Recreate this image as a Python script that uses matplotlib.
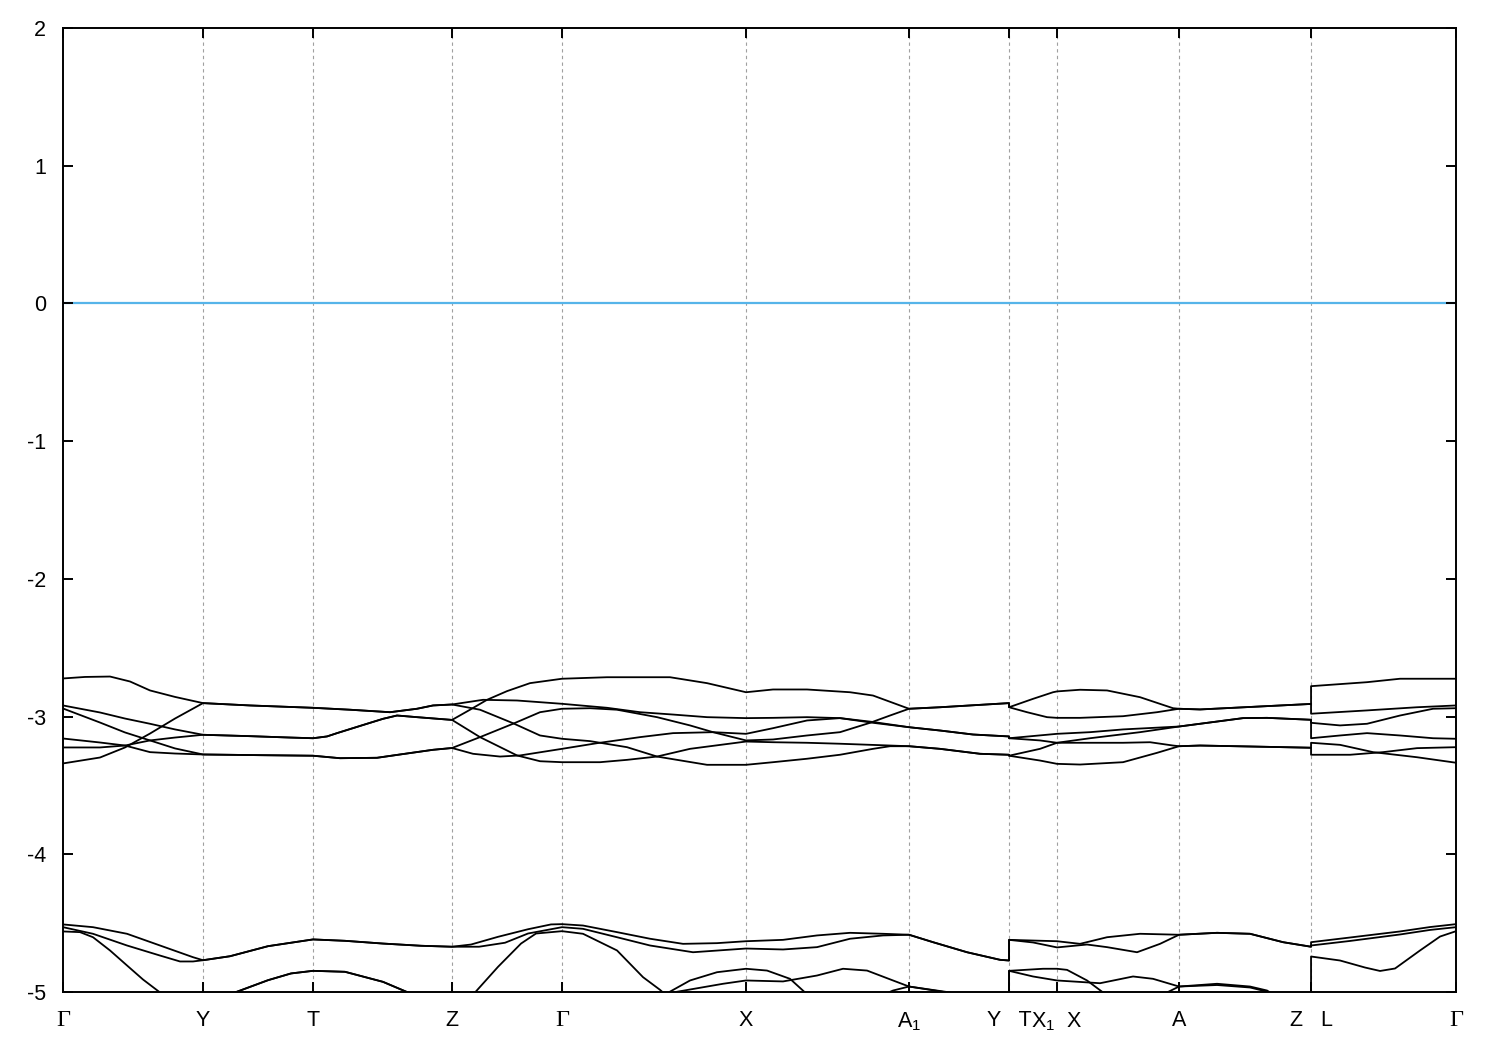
import matplotlib
matplotlib.use("Agg")
import matplotlib.pyplot as plt

plt.rcParams['font.family'] = ['Liberation Sans', 'DejaVu Sans']
plt.rcParams['mathtext.fontset'] = 'custom'
plt.rcParams['mathtext.rm'] = 'Liberation Sans'
plt.rcParams['mathtext.it'] = 'Liberation Sans'
plt.rcParams['mathtext.default'] = 'regular'

# high-symmetry points along the k-path (path coordinate)
kpoint_pos = [0.0, 1.40, 2.50, 3.89, 4.99, 6.83, 8.46, 9.46, 9.94, 11.16, 12.48, 13.93]
kpoint_labels = ['Γ', 'Y', 'T', 'Z', 'Γ', 'X', r'A$_1$', 'Y   T', r'X$_1$  X', 'A', 'Z   L', 'Γ']

# ---- upper valence group (6 bands), energies in eV ----
u1_k = [0, 0.22, 0.47, 0.67, 0.87, 1.12, 1.40, 1.87, 2.50, 2.87, 3.27, 3.54, 3.70, 3.89,
        4.20, 4.54, 4.99, 5.44, 5.77, 6.10, 6.44, 6.83, 7.10, 7.44, 7.77, 8.10, 8.46,
        8.77, 9.10, 9.46, 9.46, 9.70, 9.94, 10.27, 10.60, 11.16, 11.37, 11.80, 12.04, 12.48,
        12.48, 12.77, 13.04, 13.37, 13.70, 13.93]
u1_e = [-2.723, -2.712, -2.709, -2.745, -2.810, -2.857, -2.902, -2.919, -2.936, -2.950, -2.968, -2.943, -2.919, -2.912,
        -2.878, -2.883, -2.907, -2.936, -2.968, -2.985, -3.004, -3.011, -3.009, -3.004, -3.011, -3.045, -3.077,
        -3.101, -3.130, -3.144, -3.157, -3.141, -3.125, -3.113, -3.093, -3.072, -3.052, -3.011, -3.009, -3.023,
        -3.045, -3.064, -3.052, -2.992, -2.943, -2.939]

u2_k = [0, 0.37, 0.62, 0.87, 1.12, 1.40, 1.87, 2.50, 2.87, 3.27, 3.54, 3.70, 3.89,
        4.17, 4.50, 4.77, 4.99, 5.27, 5.64, 5.94, 6.44, 6.83, 7.10, 7.44, 7.77, 8.10, 8.27, 8.46,
        8.77, 9.17, 9.46, 9.46, 9.77, 9.94, 10.17, 10.60, 10.94, 11.16, 11.37, 11.87, 12.48,
        12.48, 12.87, 13.20, 13.54, 13.93]
u2_e = [-3.340, -3.297, -3.224, -3.123, -3.014, -2.902, -2.919, -2.936, -2.950, -2.968, -2.943, -2.919, -2.912,
        -2.950, -3.048, -3.137, -3.161, -3.178, -3.222, -3.290, -3.350, -3.350, -3.331, -3.306, -3.277, -3.234, -3.215, -3.215,
        -3.234, -3.270, -3.277, -3.284, -3.319, -3.343, -3.348, -3.331, -3.263, -3.215, -3.210, -3.217, -3.226,
        -3.277, -3.277, -3.258, -3.229, -3.222]

u3_k = [0, 0.37, 0.62, 0.87, 1.12, 1.40, 1.87, 2.27, 2.50, 2.64, 2.74, 3.04, 3.20, 3.34, 3.54, 3.89,
        4.07, 4.24, 4.44, 4.67, 4.99, 5.44, 6.07, 6.44, 6.83, 7.10, 7.44, 7.87, 8.10, 8.46,
        8.77, 9.46, 9.46, 9.70, 9.90, 9.94, 10.17, 10.44, 10.77, 11.10, 11.16, 11.37, 11.87, 12.48,
        12.48, 13.04, 13.37, 13.93]
u3_e = [-2.919, -2.970, -3.014, -3.052, -3.093, -3.132, -3.142, -3.152, -3.157, -3.144, -3.120, -3.052, -3.016, -2.992, -3.004, -3.024,
        -2.950, -2.878, -2.815, -2.757, -2.725, -2.714, -2.714, -2.757, -2.823, -2.803, -2.803, -2.823, -2.847, -2.943,
        -2.932, -2.902, -2.932, -2.871, -2.823, -2.817, -2.805, -2.810, -2.859, -2.939, -2.943, -2.948, -2.930, -2.908,
        -2.779, -2.750, -2.725, -2.725]

u4_k = [0, 0.37, 0.62, 0.87, 1.12, 1.40, 1.87, 2.27, 2.50, 2.64, 2.74, 3.04, 3.20, 3.34, 3.54, 3.89,
        4.17, 4.54, 4.77, 4.99, 5.37, 5.64, 5.94, 6.27, 6.83, 7.10, 7.44, 7.77, 8.27, 8.46,
        8.77, 9.17, 9.46, 9.46, 9.77, 9.94, 10.27, 10.77, 11.16, 11.37, 11.80, 12.04, 12.48,
        12.48, 12.77, 13.04, 13.37, 13.70, 13.93]
u4_e = [-3.224, -3.224, -3.210, -3.173, -3.152, -3.132, -3.142, -3.152, -3.157, -3.144, -3.120, -3.052, -3.016, -2.992, -3.004, -3.024,
        -3.149, -3.282, -3.324, -3.331, -3.331, -3.314, -3.290, -3.234, -3.181, -3.186, -3.190, -3.197, -3.210, -3.215,
        -3.234, -3.270, -3.277, -3.284, -3.234, -3.190, -3.157, -3.113, -3.072, -3.052, -3.011, -3.009, -3.023,
        -3.157, -3.137, -3.120, -3.137, -3.157, -3.161]

u5_k = [0, 0.37, 0.62, 0.87, 1.12, 1.40, 1.97, 2.50, 2.77, 3.14, 3.37, 3.70, 3.89,
        4.17, 4.50, 4.77, 4.99, 5.27, 5.54, 5.94, 6.27, 6.50, 6.83, 7.10, 7.44, 7.77, 8.07, 8.27, 8.46,
        8.77, 9.46, 9.46, 9.64, 9.84, 9.94, 10.17, 10.60, 10.94, 11.16, 11.37, 11.87, 12.48,
        12.48, 13.04, 13.54, 13.93]
u5_e = [-2.941, -3.043, -3.115, -3.173, -3.231, -3.275, -3.280, -3.284, -3.302, -3.299, -3.275, -3.241, -3.228,
        -3.149, -3.052, -2.968, -2.943, -2.939, -2.950, -3.004, -3.064, -3.113, -3.173, -3.166, -3.137, -3.113, -3.045, -2.992, -2.943,
        -2.932, -2.902, -2.932, -2.968, -3.004, -3.009, -3.009, -2.997, -2.968, -2.943, -2.948, -2.930, -2.908,
        -2.979, -2.955, -2.932, -2.919]

u6_k = [0, 0.37, 0.62, 0.87, 1.12, 1.40, 1.97, 2.50, 2.77, 3.14, 3.37, 3.70, 3.89,
        4.10, 4.37, 4.57, 4.99, 5.34, 5.77, 6.10, 6.50, 6.83, 7.10, 7.44, 7.77, 8.10, 8.46,
        8.77, 9.10, 9.46, 9.46, 9.77, 9.94, 10.60, 10.87, 11.10, 11.16, 11.37, 11.87, 12.48,
        12.48, 12.77, 13.10, 13.54, 13.93]
u6_e = [-3.159, -3.188, -3.210, -3.258, -3.268, -3.275, -3.280, -3.284, -3.302, -3.299, -3.275, -3.241, -3.228,
        -3.270, -3.290, -3.282, -3.234, -3.193, -3.149, -3.120, -3.113, -3.125, -3.084, -3.028, -3.011, -3.039, -3.077,
        -3.101, -3.130, -3.144, -3.157, -3.173, -3.190, -3.190, -3.186, -3.210, -3.215, -3.210, -3.217, -3.226,
        -3.190, -3.205, -3.258, -3.295, -3.335]

# ---- lower group (bands near -4.5 eV, partly below the window) ----
la_k = [0, 0.30, 0.64, 0.97, 1.30, 1.40, 1.67, 2.05, 2.50, 2.82, 3.20, 3.58, 3.89,
        4.08, 4.35, 4.65, 4.88, 4.99, 5.20, 5.54, 5.87, 6.20, 6.54, 6.83, 7.20, 7.54, 7.87, 8.20, 8.46,
        8.70, 9.04, 9.37, 9.46, 9.46, 9.70, 9.94, 10.17, 10.44, 10.77, 11.16, 11.54, 11.87, 12.20, 12.48,
        12.48, 12.87, 13.37, 13.67, 13.93]
la_e = [-4.509, -4.529, -4.577, -4.662, -4.747, -4.769, -4.740, -4.667, -4.618, -4.628, -4.648, -4.664, -4.671,
        -4.655, -4.599, -4.544, -4.509, -4.507, -4.517, -4.565, -4.613, -4.650, -4.645, -4.631, -4.621, -4.589, -4.570, -4.577, -4.584,
        -4.638, -4.711, -4.766, -4.771, -4.621, -4.626, -4.631, -4.650, -4.602, -4.577, -4.584, -4.570, -4.577, -4.638, -4.671,
        -4.638, -4.604, -4.560, -4.528, -4.507]

lb_k = [0, 0.30, 0.64, 0.97, 1.17, 1.30, 1.40, 1.67, 2.05, 2.50, 2.82, 3.20, 3.58, 3.89,
        4.16, 4.42, 4.65, 4.99, 5.20, 5.54, 5.87, 6.30, 6.83, 7.20, 7.54, 7.87, 8.20, 8.46,
        8.70, 9.04, 9.37, 9.46, 9.46, 9.70, 9.94, 10.24, 10.44, 10.74, 10.97, 11.16, 11.54, 11.87, 12.20, 12.48,
        12.48, 12.87, 13.37, 13.67, 13.93]
lb_e = [-4.529, -4.577, -4.662, -4.735, -4.778, -4.778, -4.769, -4.740, -4.667, -4.618, -4.628, -4.648, -4.664, -4.671,
        -4.671, -4.642, -4.575, -4.529, -4.541, -4.602, -4.662, -4.711, -4.684, -4.691, -4.674, -4.613, -4.589, -4.584,
        -4.638, -4.711, -4.766, -4.771, -4.621, -4.640, -4.676, -4.655, -4.674, -4.711, -4.650, -4.584, -4.570, -4.577, -4.638, -4.671,
        -4.662, -4.629, -4.582, -4.549, -4.529]

s1_k = [0, 0.17, 0.30, 0.47, 0.64, 0.80, 0.97, 1.05]
s1_e = [-4.560, -4.565, -4.602, -4.698, -4.807, -4.909, -5.003, -5.080]

s2_k = [1.52, 1.72, 2.05, 2.28, 2.50, 2.82, 3.20, 3.45, 3.57]
s2_e = [-5.149, -5.003, -4.914, -4.865, -4.846, -4.853, -4.926, -5.003, -5.083]

s3_k = [3.99, 4.12, 4.35, 4.58, 4.73, 4.99, 5.20, 5.54, 5.80, 5.97, 6.09]
s3_e = [-5.120, -5.003, -4.817, -4.648, -4.575, -4.558, -4.577, -4.698, -4.892, -4.984, -5.062]

s4_k = [5.99, 6.07, 6.27, 6.54, 6.83, 7.04, 7.27, 7.42, 7.49]
s4_e = [-5.076, -4.997, -4.916, -4.856, -4.831, -4.844, -4.904, -5.003, -5.062]

s5_k = [6.02, 6.10, 6.37, 6.60, 6.83, 7.20, 7.54, 7.80, 8.04, 8.30, 8.46, 8.62, 8.84, 8.92]
s5_e = [-5.076, -5.003, -4.969, -4.940, -4.916, -4.923, -4.880, -4.831, -4.844, -4.916, -4.960, -4.978, -5.003, -5.047]

s6_k = [8.07, 8.30, 8.46, 8.67, 8.87, 8.97]
s6_e = [-5.062, -4.989, -4.960, -4.982, -5.003, -5.047]

s7_k = [9.46, 9.46, 9.80, 9.94, 10.04, 10.24, 10.40, 10.47]
s7_e = [-5.134, -4.846, -4.831, -4.831, -4.839, -4.916, -5.003, -5.062]

s8_k = [9.46, 9.46, 9.70, 9.94, 10.20, 10.37, 10.70, 10.90, 11.16, 11.54, 11.87, 12.04, 12.07, 12.15]
s8_e = [-5.134, -4.846, -4.887, -4.916, -4.928, -4.936, -4.887, -4.904, -4.960, -4.940, -4.960, -4.989, -5.003, -5.047]

s9_k = [10.97, 11.04, 11.16, 11.54, 11.87, 12.04, 12.12]
s9_e = [-5.062, -5.003, -4.960, -4.949, -4.967, -4.997, -5.040]

s10_k = [12.48, 12.48, 12.77, 13.02, 13.17, 13.32, 13.57, 13.77, 13.93]
s10_e = [-5.134, -4.742, -4.771, -4.822, -4.847, -4.829, -4.698, -4.597, -4.558]

fermi_level = 0.0

bands = [(u1_k, u1_e), (u2_k, u2_e), (u3_k, u3_e), (u4_k, u4_e), (u5_k, u5_e), (u6_k, u6_e),
         (la_k, la_e), (lb_k, lb_e),
         (s1_k, s1_e), (s2_k, s2_e), (s2_k, s2_e), (s3_k, s3_e), (s4_k, s4_e), (s5_k, s5_e),
         (s6_k, s6_e), (s7_k, s7_e), (s8_k, s8_e), (s9_k, s9_e), (s10_k, s10_e)]

fig = plt.figure(figsize=(15, 10.5), dpi=100)
ax = fig.add_axes([0.042, 0.0552, 0.9287, 0.9181])

for kp in kpoint_pos[1:-1]:
    ax.axvline(kp, color='#a0a0a0', lw=0.8, linestyle=(0, (3, 3)), zorder=0)

ax.axhline(fermi_level, color='#56b4e9', lw=1.6, zorder=1)

for kk, ee in bands:
    ax.plot(kk, ee, color='black', lw=1.3, solid_joinstyle='round', zorder=2)

ax.set_xlim(kpoint_pos[0], kpoint_pos[-1])
ax.set_ylim(-5, 2)
ax.set_xticks(kpoint_pos)
ax.set_xticklabels(kpoint_labels)
ax.set_yticks(range(-5, 3))
ax.set_yticklabels([str(v) for v in range(-5, 3)])

ax.tick_params(axis='both', direction='in', length=7.5, width=1.4, top=True, right=True,
               labelsize=15.5, colors='black')
ax.tick_params(axis='x', pad=13)
ax.tick_params(axis='y', pad=12)
for lab in ax.get_xticklabels():
    if lab.get_text() == 'Γ':
        lab.set_fontfamily(['Liberation Serif', 'DejaVu Serif'])
        lab.set_fontsize(17.5)

for sp in ax.spines.values():
    sp.set_linewidth(1.4)
    sp.set_zorder(5)

fig.savefig('out.png', dpi=100)
